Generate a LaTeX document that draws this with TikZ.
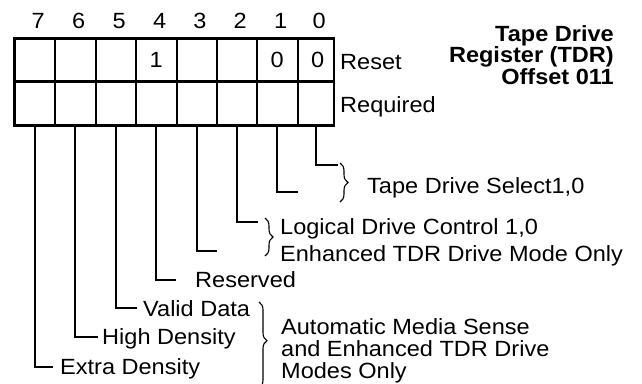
\documentclass[tikz,border=0pt]{standalone}
\usepackage{fontspec}
\setmainfont{Liberation Sans}[FakeStretch=1.07]
\usetikzlibrary{positioning,decorations.pathreplacing}

\newcommand{\regfont}{\fontsize{22}{26}\selectfont}

\tikzset{
  cell/.style={rectangle, draw, line width=2pt, inner sep=0pt, outer sep=0pt, minimum height=43.5pt, font=\regfont},
  bitno/.style={anchor=base, inner sep=0pt, font=\regfont},
  lbl/.style={anchor=base west, inner sep=0pt, font=\regfont},
  leader/.style={line width=2pt},
  curly/.style={decorate, decoration={brace, amplitude=8pt}, line width=1.1pt},
}

\begin{document}
\begin{tikzpicture}[x=1pt,y=-1pt]
\useasboundingbox (0,0) rectangle (642,383);

% register cells, bit numbers and leader lines
\foreach \b/\xa/\xb in {7/14.5/55, 6/55/95.5, 5/95.5/136, 4/136/176.5, 3/176.5/216.5, 2/216.5/257, 1/257/297.5, 0/297.5/334}{
  \node[cell, minimum width={\xb pt-\xa pt}] (r\b) at ({(\xa+\xb)/2},60) {};
  \node[cell, minimum width={\xb pt-\xa pt}] (q\b) at ({(\xa+\xb)/2},103.75) {};
  \node[bitno] (n\b) at ({(\xa+\xb)/2+3.5},28) {\b};
}
\draw[line width=2.8pt] (r7.north west) rectangle (q0.south east);
\draw[line width=2.8pt] (r7.south west) -- (r0.south east);

% reset values
\node[font=\regfont, inner sep=0pt] (v4) at (r4) {1};
\node[font=\regfont, inner sep=0pt] (v1) at (r1) {0};
\node[font=\regfont, inner sep=0pt] (v0) at ([xshift=2pt]r0.center) {0};

\node[lbl] (rst) at (340,69) {Reset};
\node[lbl] (req) at (340,112) {Required};

\node[anchor=north east, inner sep=0pt, align=right, font=\fontsize{22}{21.7}\selectfont\bfseries] (title) at (614,25) {Tape Drive\\Register (TDR)\\Offset 011};

% leader ends
\coordinate (e0) at (338,165);
\coordinate (e1) at (298,192);
\coordinate (e2) at (258,222);
\coordinate (e3) at (217,251);
\coordinate (e4) at (176,280);
\coordinate (e5) at (137,308);
\coordinate (e6) at (98,337);
\coordinate (e7) at (53,367);
\foreach \b in {0,...,7}{
  \draw[leader] (q\b.south) |- (e\b);
}

% field names
\node[lbl] (sel) at (367,193) {Tape Drive Select1,0};
\node[lbl] (ldc) at (280,234) {Logical Drive Control 1,0};
\node[lbl] (enh) at (280,261) {Enhanced TDR Drive Mode Only};
\node[lbl] (rsv) at (195,287) {Reserved};
\node[lbl] (vld) at (143,316) {Valid Data};
\node[lbl] (hid) at (102,344) {High Density};
\node[lbl] (exd) at (60,374) {Extra Density};
\node[anchor=north west, inner sep=0pt, align=left, font=\fontsize{22}{22}\selectfont] (ams) at (281,318) {Automatic Media Sense\\and Enhanced TDR Drive\\Modes Only};

% braces
\draw[curly] (340,163) -- (340,202);
\draw[curly] (265,218) -- (265,256);
\draw[curly, decoration={aspect=0.45}] (259,302) -- (259,388);
\end{tikzpicture}
\end{document}
